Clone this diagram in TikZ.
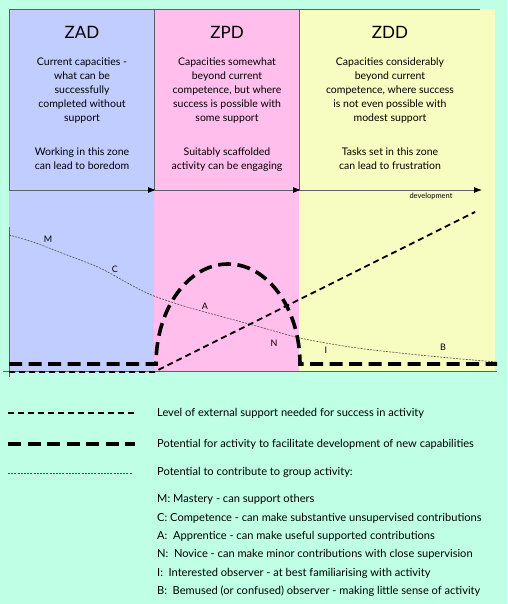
\documentclass[tikz,border=0pt]{standalone}
\usepackage{fontspec}
\setmainfont{Lato}
\usetikzlibrary{arrows.meta}
\definecolor{mint}{RGB}{190,255,230}
\definecolor{zadblue}{RGB}{193,204,255}
\definecolor{zpdpink}{RGB}{255,190,235}
\definecolor{zddyellow}{RGB}{247,252,192}
\definecolor{rulegray}{RGB}{95,95,105}
\begin{document}
\begin{tikzpicture}[x=1pt, y=-1pt,
    zonetitle/.style={inner sep=0pt, font=\fontsize{17}{20}\selectfont},
    zonetext/.style={inner sep=0pt, align=center, anchor=north, font=\fontsize{10.5}{14}\selectfont},
    keytext/.style={inner sep=0pt, anchor=west, font=\fontsize{11.1}{13}\selectfont},
    curvelabel/.style={inner sep=0pt, font=\fontsize{9}{10}\selectfont},
    supportline/.style={line width=1.8pt, dash pattern=on 6pt off 4pt},
    growthline/.style={line width=3.6pt, dash pattern=on 13pt off 6.5pt},
    groupline/.style={line width=0.6pt, black!70, dash pattern=on 2pt off 1.2pt},
    devarrow/.style={-{Latex[length=8pt,width=6pt,fill=black,color=black]}, rulegray, line width=0.8pt}]

    % Background and zones
    \fill[mint] (0,0) rectangle (507,604);
    \fill[zadblue] (9,9) rectangle (154,372);
    \fill[zpdpink] (154,9) rectangle (299,372);
    \fill[zddyellow] (299,9) rectangle (495,372);

    % Zone boxes
    \draw[rulegray, line width=0.8pt] (9,190) -- (9,9) -- (480,9);
    \draw[rulegray, line width=0.8pt] (154,9) -- (154,190);
    \draw[rulegray, line width=0.8pt] (299,9) -- (299,190);

    % Development axis
    \draw[devarrow] (9,190) -- (156,190);
    \draw[devarrow] (154,190) -- (301,190);
    \draw[devarrow] (299,190) -- (482,190);
    \node[inner sep=0pt, font=\fontsize{7.5}{8}\selectfont] (devlabel) at (431,196) {development};

    % Axes of the graph
    \draw[rulegray, line width=0.6pt] (9,227) -- (9,377);
    \draw[rulegray, line width=0.6pt] (3,371) -- (497,371);

    % Zone titles
    \node[zonetitle] (zad) at (82,32) {ZAD};
    \node[zonetitle] (zpd) at (227,32) {ZPD};
    \node[zonetitle] (zdd) at (390,32) {ZDD};

    % Zone descriptions
    \node[zonetext] (zaddesc) at (82,58) {Current capacities -\\what can be\\successfully\\completed without\\support};
    \node[zonetext] (zpddesc) at (227,58) {Capacities somewhat\\beyond current\\competence, but where\\success is possible with\\some support};
    \node[zonetext] (zdddesc) at (390,58) {Capacities considerably\\beyond current\\competence, where success\\is not even possible with\\modest support};
    \node[zonetext] (zadnote) at (82,148) {Working in this zone\\can lead to boredom};
    \node[zonetext] (zpdnote) at (227,148) {Suitably scaffolded\\activity can be engaging};
    \node[zonetext] (zddnote) at (390,148) {Tasks set in this zone\\can lead to frustration};

    % Potential to contribute
    \draw[groupline] plot[smooth] coordinates {(9,235) (33,242) (67,255) (100,268) (133,286) (154,296) (187,307) (227,318) (260,327) (300,338) (350,347) (400,353) (450,358) (497,362)};
    \node[curvelabel] (mastery) at (48,239) {M};
    \node[curvelabel] (competence) at (115,269) {C};
    \node[curvelabel] (apprentice) at (205,306) {A};
    \node[curvelabel] (novice) at (274,343) {N};
    \node[curvelabel] (interested) at (326,350) {I};
    \node[curvelabel] (bemused) at (443,347) {B};

    % External support
    \draw[supportline] (9,372) -- (154,372) -- (475,212);

    % Potential for development
    \draw[growthline] (9,364) -- (156,364) arc[start angle=180, end angle=0, x radius=72pt, y radius=100pt] -- (497,364);

    % Key
    \draw[supportline] (8,413) -- (135,413);
    \node[keytext] (keysupport) at (157,413) {Level of external support needed for success in activity};
    \draw[growthline] (8,444) -- (135,444);
    \node[keytext] (keygrowth) at (157,444) {Potential for activity to facilitate development of new capabilities};
    \draw[groupline] (8,473) -- (132,473);
    \node[keytext] (keygroup) at (157,472) {Potential to contribute to group activity:};
    \node[inner sep=0pt, anchor=north west, align=left, font=\fontsize{11.1}{18.3}\selectfont] (keylevels) at (157,494.5)
        {M: Mastery - can support others\\
         C: Competence - can make substantive unsupervised contributions\\
         A:\enspace Apprentice - can make useful supported contributions\\
         N:\enspace Novice - can make minor contributions with close supervision\\
         I:\enspace Interested observer - at best familiarising with activity\\
         B:\enspace Bemused (or confused) observer - making little sense of activity};
\end{tikzpicture}
\end{document}
